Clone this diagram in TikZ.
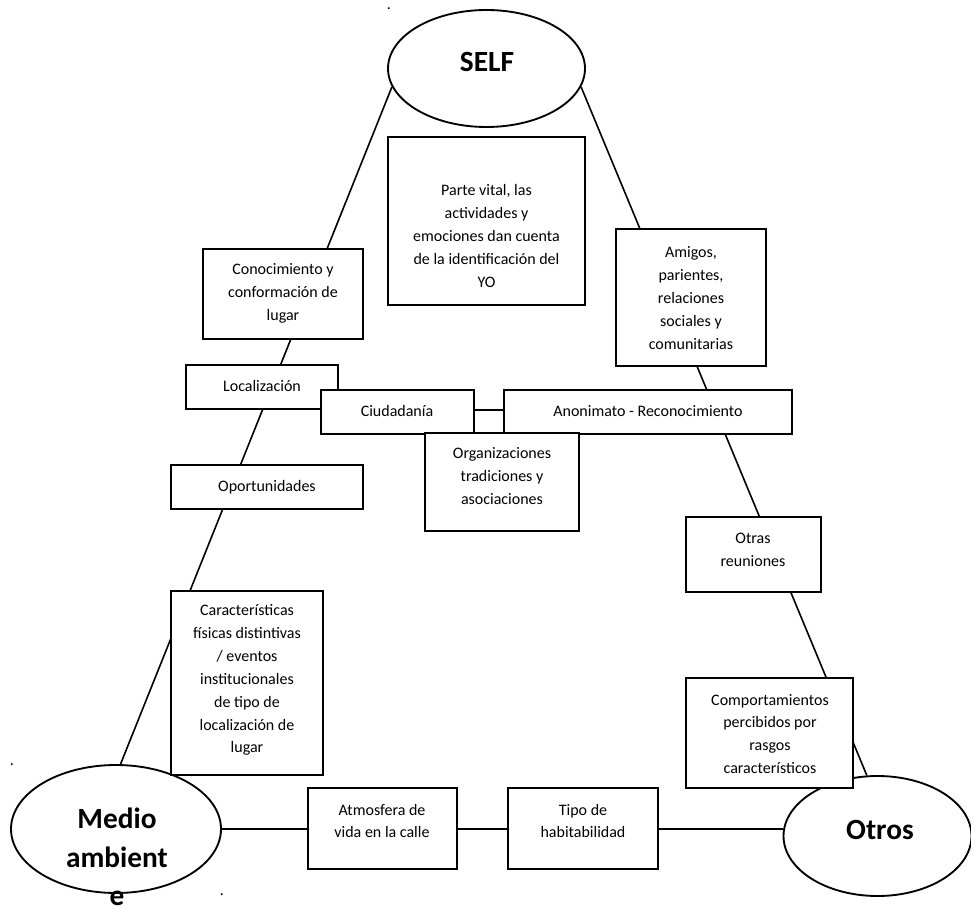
\documentclass[tikz,border=0pt]{standalone}
\usepackage{fontspec}
\setmainfont{Carlito}
\usetikzlibrary{shapes.geometric,calc}
\begin{document}
\begin{tikzpicture}[x=0.75pt,y=-0.75pt,
  box/.style={draw, line width=1.4pt, fill=white, inner sep=0pt, rectangle},
  oval/.style={draw, line width=1.4pt, fill=white, ellipse, inner sep=0pt},
  txt/.style={align=center, font=\fontsize{12}{17.2}\selectfont, inner sep=0pt},
  big/.style={align=center, font=\fontsize{22}{29}\selectfont\bfseries, inner sep=0pt},
  conn/.style={line width=1.2pt},
  dotmark/.style={font=\fontsize{12}{13}\selectfont, inner sep=0pt, anchor=base}]
\useasboundingbox (0,0) rectangle (971,909);
% ellipses
\node[oval, minimum width=147.75pt, minimum height=87.75pt] (self) at (486.5,68.5) {};
\node[oval, minimum width=157.5pt, minimum height=96pt] (medio) at (116,829) {};
\node[oval, minimum width=141pt, minimum height=90pt] (otros) at (877.5,836) {};
% long connectors
\draw[conn] (self.191) -- (medio.86);
\draw[conn] (self.349) -- (otros.100);
\draw[conn] (medio.east) -- (medio.east -| otros.west);
% boxes
\node[box, minimum width=147.75pt, minimum height=126pt] (vital) at (486.5,221) {};
\node[box, minimum width=120pt, minimum height=67.5pt] (cono) at (283,294) {};
\node[box, minimum width=114pt, minimum height=33pt] (loc) at (262,387) {};
\node[box, minimum width=114.75pt, minimum height=33pt] (ciud) at (397.5,412) {};
\node[box, minimum width=216pt, minimum height=33pt] (anon) at (648,412) {};
\node[box, minimum width=115.5pt, minimum height=73.5pt] (org) at (502,482) {};
\node[box, minimum width=144pt, minimum height=33pt] (opor) at (267,487) {};
\node[box, minimum width=114pt, minimum height=138pt] (carac) at (247,683) {};
\node[box, minimum width=112.5pt, minimum height=102.75pt] (amig) at (691,297.5) {};
\node[box, minimum width=101.25pt, minimum height=56.25pt] (otras) at (753.5,554.5) {};
\node[box, minimum width=125.25pt, minimum height=82.5pt] (comp) at (769.5,733) {};
\node[box, minimum width=111.75pt, minimum height=60.75pt] (atm) at (382.5,828.5) {};
\node[box, minimum width=112.5pt, minimum height=60.75pt] (tipo) at (583,828.5) {};
\draw[conn] ($(ciud.east)+(0,-2)$) -- ($(anon.west)+(0,-2)$);
% big labels
\node[big, anchor=base] (selft) at (487,72) {SELF};
\node[big] (mediot) at (117,857) {Medio\\ambient\\e};
\node[big, anchor=base] (otrost) at (880,839) {Otros};
% box texts
\node[txt] (vitalt) at (486.5,236) {Parte vital, las\\actividades y\\emociones dan cuenta\\de la identificación del\\YO};
\node[txt] (conot) at (283,293) {Conocimiento y\\conformación de\\lugar};
\node[txt] (loct) at (262,386) {Localización};
\node[txt] (ciudt) at (397,411) {Ciudadanía};
\node[txt] (anont) at (648,411) {Anonimato - Reconocimiento};
\node[txt] (orgt) at (502,476) {Organizaciones\\tradiciones y\\asociaciones};
\node[txt] (oport) at (267,487) {Oportunidades};
\node[txt] (caract) at (247,680) {Características\\físicas distintivas\\/ eventos\\institucionales\\de tipo de\\localización de\\lugar};
\node[txt] (amigt) at (691,298) {Amigos,\\parientes,\\relaciones\\sociales y\\comunitarias};
\node[txt] (otrast) at (753,550) {Otras\\reuniones};
\node[txt] (compt) at (770,734) {Comportamientos\\percibidos por\\rasgos\\característicos};
\node[txt] (atmt) at (382,821) {Atmosfera de\\vida en la calle};
\node[txt] (tipot) at (583,821) {Tipo de\\habitabilidad};
% stray dots
\node[dotmark] (d1) at (389,10) {.};
\node[dotmark] (d2) at (12,765) {.};
\node[dotmark] (d3) at (222,895) {.};
\end{tikzpicture}
\end{document}
